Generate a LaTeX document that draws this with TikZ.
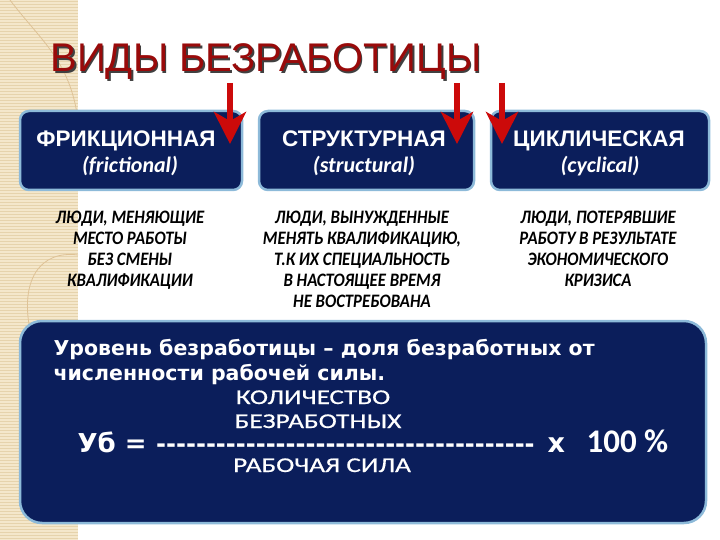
\documentclass[tikz,border=0pt]{standalone}
\usepackage{fontspec}
\setmainfont{Liberation Sans}
\newfontfamily\calib{Carlito}
\newfontfamily\calibn{Carlito}[FakeStretch=0.88]
\newfontfamily\calibw{Carlito}[FakeStretch=1.3,FakeBold=0.6]
\newfontfamily\dejab{DejaVu Sans}
\usetikzlibrary{arrows.meta}
\definecolor{navy}{HTML}{0B1E5B}
\definecolor{edge}{HTML}{8DBAD9}
\definecolor{beige}{HTML}{F4E7CB}
\definecolor{beigeline}{HTML}{E6D3AC}
\definecolor{titlered}{HTML}{990A0A}
\definecolor{arrowred}{HTML}{CC0A0A}
\newcommand\hyrow{\foreach \i in {1,...,38}{-\kern0pt}}
\tikzset{
  typebox/.style={draw=edge, line width=2.5pt, fill=navy, rounded corners=9pt},
  bigbox/.style={draw=edge, line width=2.5pt, fill=navy, rounded corners=22pt},
  head/.style={text=white, font=\fontsize{22.5}{24}\selectfont\bfseries, anchor=base},
  sub/.style={text=white, font=\calib\fontsize{22}{24}\selectfont\bfseries\itshape, anchor=base},
  desc/.style={text=black, font=\calibn\fontsize{19}{21}\selectfont\bfseries\itshape, align=center, anchor=north},
  downarrow/.style={draw=arrowred, line width=6pt, -{Stealth[length=32pt,width=32pt,inset=9pt]}},
  wtext/.style={text=white, anchor=base west},
  frac/.style={text=white, font=\calibw\fontsize{21}{24}\selectfont, anchor=base},
}
\begin{document}
\begin{tikzpicture}[x=1pt,y=-1pt]
\useasboundingbox (0,0) rectangle (720,540);
% beige strip
\fill[beige] (0,0) rectangle (78,540);
\foreach \yy in {1,4,...,540} {\draw[beigeline, line width=0.6pt] (0,\yy) -- (78,\yy);}
\draw[beigeline!80!brown, line width=0.8pt] (10,0) .. controls (40,40) and (70,60) .. (78,120);
\draw[beigeline!80!brown, line width=0.8pt] (78,255) .. controls (40,250) and (20,280) .. (30,330);
% title
\node[text=black!75, font=\fontsize{40}{44}\selectfont, anchor=base west] at (48.5,73.5) {ВИДЫ БЕЗРАБОТИЦЫ};
\node[text=titlered, font=\fontsize{40}{44}\selectfont, anchor=base west] (title) at (47,72) {ВИДЫ БЕЗРАБОТИЦЫ};
% boxes
\draw[typebox] (20,111) rectangle (242,190);
\draw[typebox] (259,111) rectangle (474,190);
\draw[typebox] (491,111) rectangle (709,190);
\node[head] (h1) at (126,147) {ФРИКЦИОННАЯ};
\node[head] (h2) at (364,147) {СТРУКТУРНАЯ};
\node[head] (h3) at (599,147) {ЦИКЛИЧЕСКАЯ};
\node[sub] (s1) at (130,173) {(frictional)};
\node[sub] (s2) at (364,173) {(structural)};
\node[sub] (s3) at (600,173) {(cyclical)};
% arrows
\coordinate (a1s) at (230,83); \coordinate (a1e) at (230,144);
\coordinate (a2s) at (457,83); \coordinate (a2e) at (457,144);
\coordinate (a3s) at (502,83); \coordinate (a3e) at (502,144);
\draw[downarrow] (a1s) -- (a1e);
\draw[downarrow] (a2s) -- (a2e);
\draw[downarrow] (a3s) -- (a3e);
% descriptions
\node[desc] (d1) at (130,208) {ЛЮДИ, МЕНЯЮЩИЕ\\МЕСТО РАБОТЫ\\БЕЗ СМЕНЫ\\КВАЛИФИКАЦИИ};
\node[desc] (d2) at (362,208) {ЛЮДИ, ВЫНУЖДЕННЫЕ\\МЕНЯТЬ КВАЛИФИКАЦИЮ,\\Т.К ИХ СПЕЦИАЛЬНОСТЬ\\В НАСТОЯЩЕЕ ВРЕМЯ\\НЕ ВОСТРЕБОВАНА};
\node[desc] (d3) at (598,208) {ЛЮДИ, ПОТЕРЯВШИЕ\\РАБОТУ В РЕЗУЛЬТАТЕ\\ЭКОНОМИЧЕСКОГО\\КРИЗИСА};
% big box
\draw[bigbox] (20,321) rectangle (706,523);
\node[wtext, font=\dejab\fontsize{20.5}{24}\selectfont\bfseries] (l1) at (50,355) {Уровень безработицы – доля безработных от};
\node[wtext, font=\dejab\fontsize{20.5}{24}\selectfont\bfseries] (l2) at (50,380) {численности рабочей силы.};
\node[frac, inner sep=1pt] (f1) at (313,404) {КОЛИЧЕСТВО};
\node[frac, inner sep=1pt] (f2) at (318,428) {БЕЗРАБОТНЫХ};
\node[wtext, font=\dejab\fontsize{26}{30}\selectfont\bfseries] (ub) at (74,452) {Уб =};
\node[wtext, font=\dejab\fontsize{24}{30}\selectfont\bfseries, inner sep=0pt] (dash) at (156,452) {\hyrow};
\node[wtext, font=\dejab\fontsize{27}{30}\selectfont\bfseries] (x) at (544,452) {х};
\node[wtext, font=\calib\fontsize{33}{34}\selectfont\bfseries] (p) at (583,452) {100 \%};
\node[frac, inner sep=1pt] (f3) at (322,472) {РАБОЧАЯ СИЛА};
\end{tikzpicture}
\end{document}
